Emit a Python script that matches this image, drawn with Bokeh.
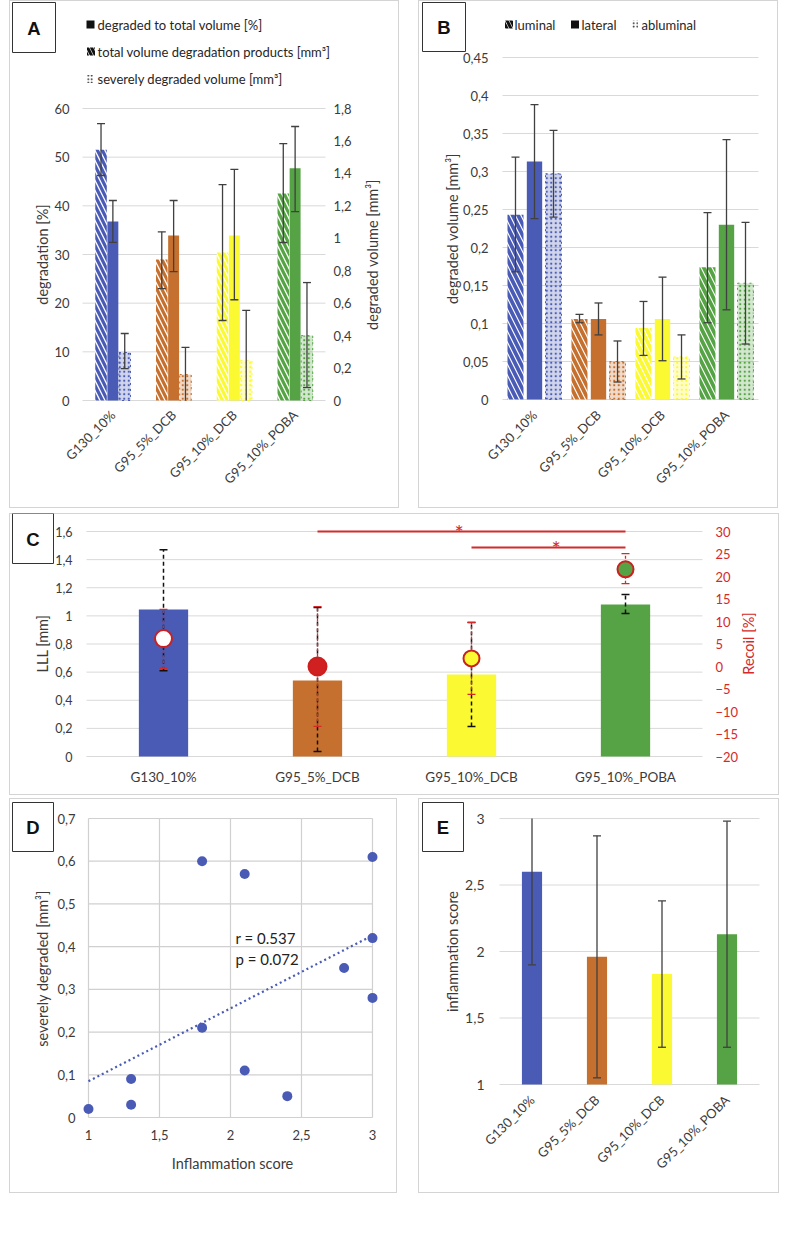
import math
import numpy as np
from bokeh.plotting import figure
from bokeh.models import (Range1d, LinearAxis, FixedTicker, CustomJSTickFormatter,
                          ColumnDataSource, Spacer)
from bokeh.layouts import row, column
from bokeh.embed import file_html
from bokeh.resources import INLINE
from bokeh.core.properties import value

FONT = "Lato"
TXT = "#3b3b3b"
GRID = "#d9d9d9"
ERR = "#404040"
RED = "#d42a2a"

# ---------------- data ----------------
groups = ["G130_10%", "G95_5%_DCB", "G95_10%_DCB", "G95_10%_POBA"]
group_pos = [1, 2, 3, 4]
colors = ["#4a5bb5", "#c5702f", "#faf932", "#55a344"]

# Panel A
a_legend = ["degraded to total volume [%]",
            "total volume degradation products [mm³]",
            "severely degraded volume [mm³]"]
a_pct = [36.8, 33.9, 33.9, 47.7]
a_pct_lo = [32.5, 26.5, 20.7, 38.8]
a_pct_hi = [41.1, 41.1, 47.5, 56.3]
a_total = [1.545, 0.869, 0.912, 1.276]
a_total_lo = [1.387, 0.69, 0.493, 0.974]
a_total_hi = [1.707, 1.04, 1.331, 1.584]
a_severe = [0.296, 0.16, 0.247, 0.40]
a_severe_lo = [0.197, -0.007, -0.061, 0.08]
a_severe_hi = [0.413, 0.327, 0.555, 0.727]
a_left_ticks = [0, 10, 20, 30, 40, 50, 60]
a_right_ticks = [0, 0.2, 0.4, 0.6, 0.8, 1, 1.2, 1.4, 1.6, 1.8]

# Panel B
b_legend = ["luminal", "lateral", "abluminal"]
b_lum = [0.243, 0.106, 0.094, 0.174]
b_lum_lo = [0.168, 0.101, 0.058, 0.101]
b_lum_hi = [0.319, 0.112, 0.129, 0.246]
b_lat = [0.313, 0.106, 0.106, 0.230]
b_lat_lo = [0.238, 0.085, 0.051, 0.118]
b_lat_hi = [0.388, 0.127, 0.161, 0.342]
b_abl = [0.297, 0.050, 0.056, 0.153]
b_abl_lo = [0.240, 0.023, 0.027, 0.073]
b_abl_hi = [0.354, 0.077, 0.085, 0.233]
b_ticks = [0, 0.05, 0.1, 0.15, 0.2, 0.25, 0.3, 0.35, 0.4, 0.45]

# Panel C
c_lll = [1.045, 0.54, 0.583, 1.081]
c_lll_lo = [0.61, 0.036, 0.213, 1.017]
c_lll_hi = [1.47, 1.06, 0.953, 1.152]
c_recoil = [6.2, 0.0, 1.8, 21.6]
c_recoil_lo = [-0.4, -13.3, -6.2, 18.4]
c_recoil_hi = [12.7, 13.3, 9.8, 25.1]
c_marker_fill = ["#ffffff", "#d0201f", "#faf932", "#55a344"]
c_marker_size = [17, 18, 16, 16]
sig_from = [2, 3]
sig_to = [4, 4]
sig_lll = [1.6, 1.486]
sig_star_x = [2.92, 3.55]
c_left_ticks = [0, 0.2, 0.4, 0.6, 0.8, 1, 1.2, 1.4, 1.6]
c_right_ticks = [-20, -15, -10, -5, 0, 5, 10, 15, 20, 25, 30]

# Panel D
d_score = [1.0, 1.3, 1.3, 1.8, 1.8, 2.1, 2.1, 2.4, 2.8, 3.0, 3.0, 3.0]
d_severe = [0.02, 0.09, 0.03, 0.60, 0.21, 0.57, 0.11, 0.05, 0.35, 0.61, 0.42, 0.28]
d_stats = ["r = 0.537", "p = 0.072"]
d_x_ticks = [1, 1.5, 2, 2.5, 3]
d_y_ticks = [0, 0.1, 0.2, 0.3, 0.4, 0.5, 0.6, 0.7]

# Panel E
e_score = [2.60, 1.96, 1.83, 2.13]
e_lo = [1.90, 1.05, 1.28, 1.28]
e_hi = [3.30, 2.87, 2.38, 2.98]
e_ticks = [1, 1.5, 2, 2.5, 3]

# ---------------- helpers ----------------
def comma():
    return CustomJSTickFormatter(code="return String(tick).replace('.', ',');")


class Panel:
    """A figure whose frame covers the whole panel; (fl, ft, fr, fb) is the
    plotting area in page pixels that maps onto the data ranges xr, yr."""

    def __init__(self, x0, y0, w, h, fl, ft, fr, fb, xr, yr):
        self.fl, self.ft, self.fr, self.fb = fl, ft, fr, fb
        self.xr, self.yr = xr, yr
        p = figure(width=w, height=h,
                   x_range=Range1d(self.X(x0), self.X(x0 + w)),
                   y_range=Range1d(self.Y(y0 + h), self.Y(y0)),
                   output_backend="svg", toolbar_location=None,
                   min_border=0, min_border_left=0, min_border_right=0,
                   min_border_top=0, min_border_bottom=0)
        p.border_fill_color = None
        p.background_fill_color = None
        p.outline_line_color = None
        p.styles = {"box-shadow": "inset 0 0 0 1px #d4d4d4"}
        p.xgrid.visible = False
        p.ygrid.visible = False
        self.p = p

    def X(self, px):
        return self.xr[0] + (px - self.fl) / (self.fr - self.fl) * (self.xr[1] - self.xr[0])

    def Y(self, py):
        return self.yr[0] + (self.fb - py) / (self.fb - self.ft) * (self.yr[1] - self.yr[0])

    def text(self, px, py, texts, size="14.5px", color=TXT, angle=0.0, align="center",
             font=FONT, style="normal"):
        if isinstance(texts, str):
            texts = [texts]
        pxs = px if isinstance(px, (list, tuple)) else [px] * len(texts)
        pys = py if isinstance(py, (list, tuple)) else [py] * len(texts)
        self.p.text(x=[self.X(v) for v in pxs], y=[self.Y(v) for v in pys], text=texts,
                    angle=angle, text_align=align, text_baseline="middle",
                    text_font=value(font), text_font_size=size, text_color=color,
                    text_font_style=style)

    def tag(self, cx, cy, w, h, letter):
        self.p.rect(x=[self.X(cx)], y=[self.Y(cy)], width=w, height=h,
                    width_units="screen", height_units="screen",
                    fill_color="white", line_color="#333333", line_width=1)
        self.text(cx, cy + 0.5, letter, size="18.5px", color="#111111",
                  font="Liberation Sans", style="bold")

    def hgrid(self, ticks, x0=None, x1=None, color=GRID, width=1):
        x0 = self.xr[0] if x0 is None else x0
        x1 = self.xr[1] if x1 is None else x1
        self.p.segment(x0=[x0] * len(ticks), y0=ticks, x1=[x1] * len(ticks), y1=ticks,
                       line_color=color, line_width=width)


def style_axis(ax, size="13px", color=TXT, standoff=12):
    ax.axis_line_color = None
    ax.major_tick_line_color = None
    ax.minor_tick_line_color = None
    ax.major_tick_out = 0
    ax.major_tick_in = 0
    ax.minor_tick_out = 0
    ax.minor_tick_in = 0
    ax.major_label_text_font = FONT
    ax.major_label_text_font_size = size
    ax.major_label_text_color = color
    ax.major_label_standoff = standoff


def cat_axis(P, size="13px", standoff=12, rotate=True):
    ax = P.p.xaxis[0]
    ax.fixed_location = P.yr[0]
    ax.ticker = FixedTicker(ticks=group_pos)
    ax.major_label_overrides = {k: g for k, g in zip(group_pos, groups)}
    style_axis(ax, size=size, standoff=standoff)
    if rotate:
        ax.major_label_orientation = math.pi / 4


def y_axis(P, ticks, size="13px", standoff=12, loc=None):
    ax = P.p.yaxis[0]
    ax.fixed_location = P.xr[0] if loc is None else loc
    ax.ticker = FixedTicker(ticks=ticks)
    ax.formatter = comma()
    style_axis(ax, size=size, standoff=standoff)


def errbars(p, xs, lo, hi, color=ERR, width=1.3, cap=8, dash="solid", yname="default",
            clip=(-1e9, 1e9)):
    xs = list(xs)
    lo_c = [max(v, clip[0]) for v in lo]
    hi_c = [min(v, clip[1]) for v in hi]
    p.segment(x0=xs, y0=lo_c, x1=xs, y1=hi_c, line_color=color, line_width=width,
              line_dash=dash, y_range_name=yname)
    cx = [x for x, v in zip(xs, lo) if v >= clip[0]] + [x for x, v in zip(xs, hi) if v <= clip[1]]
    cy = [v for v in lo if v >= clip[0]] + [v for v in hi if v <= clip[1]]
    p.scatter(x=cx, y=cy, marker="dash", size=cap, line_color=color, line_width=width,
              y_range_name=yname)


DOT = dict(fill_alpha=0.26, line_dash="dotted", line_width=1,
           hatch_pattern="dot", hatch_scale=4.5, hatch_weight=1.5)

xg = np.array(group_pos, dtype=float)

# ---------------- Panel A ----------------
A = Panel(9, 0, 390, 508, 82, 108, 325, 400, (0.5, 4.5), (0, 60))
pA = A.p
VOL = 0.03
pA.extra_y_ranges = {"vol": Range1d(pA.y_range.start * VOL, pA.y_range.end * VOL)}
A.hgrid(a_left_ticks)
off, bw = 0.195, 0.19
pA.vbar(x=xg - off, top=a_total, width=bw, y_range_name="vol", fill_color="white",
        line_color=None, hatch_pattern="left_diagonal_line", hatch_color=colors,
        hatch_weight=3.2, hatch_scale=10)
pA.vbar(x=xg, top=a_pct, width=0.18, fill_color=colors, line_color=None)
pA.vbar(x=xg + off, top=a_severe, width=bw, y_range_name="vol", fill_color=colors,
        line_color=colors, hatch_color=colors, **DOT)
errbars(pA, xg - off, a_total_lo, a_total_hi, yname="vol", clip=(0, 1e9))
errbars(pA, xg, a_pct_lo, a_pct_hi, clip=(0, 1e9))
errbars(pA, xg + off, a_severe_lo, a_severe_hi, yname="vol", clip=(0, 1e9))
y_axis(A, a_left_ticks, standoff=13)
cat_axis(A, standoff=12)
axr = LinearAxis(y_range_name="vol", ticker=FixedTicker(ticks=a_right_ticks),
                 formatter=comma(), fixed_location=A.xr[1])
style_axis(axr, standoff=8)
pA.add_layout(axr, "right")
# legend
leg_y = [24, 51, 78]
pA.rect(x=[A.X(90)], y=[A.Y(24)], width=8, height=8, width_units="screen",
        height_units="screen", fill_color="#111111", line_color=None)
pA.rect(x=[A.X(90.5)], y=[A.Y(51)], width=8, height=8, width_units="screen",
        height_units="screen", fill_color="white", line_color=None,
        hatch_pattern="left_diagonal_line", hatch_color="#111111", hatch_weight=3, hatch_scale=8)
pA.rect(x=[A.X(89.5)], y=[A.Y(78.5)], width=7, height=8, width_units="screen",
        height_units="screen", fill_color="white", line_color=None,
        hatch_pattern="dot", hatch_color="#111111", hatch_scale=3.5, hatch_weight=1.5)
A.text(97, leg_y, a_legend, size="13px", color="#262626", align="left")
A.text(42, 254, "degradation [%]", angle=math.pi / 2)
A.text(372, 254, "degraded volume [mm³]", angle=math.pi / 2)
A.tag(33.5, 27, 43, 50, "A")

# ---------------- Panel B ----------------
B = Panel(418, 0, 360, 508, 502, 57, 758, 399, (0.5, 4.5), (0, 0.45))
pB = B.p
B.hgrid(b_ticks)
offb, bwb = 0.297, 0.25
pB.vbar(x=xg - offb, top=b_lum, width=bwb, fill_color="white", line_color=None,
        hatch_pattern="left_diagonal_line", hatch_color=colors, hatch_weight=3.8, hatch_scale=11)
pB.vbar(x=xg, top=b_lat, width=0.24, fill_color=colors, line_color=None)
pB.vbar(x=xg + offb, top=b_abl, width=bwb, fill_color=colors, line_color=colors,
        hatch_color=colors, **DOT)
errbars(pB, xg - offb, b_lum_lo, b_lum_hi, clip=(0, 1e9))
errbars(pB, xg, b_lat_lo, b_lat_hi, clip=(0, 1e9))
errbars(pB, xg + offb, b_abl_lo, b_abl_hi, clip=(0, 1e9))
y_axis(B, b_ticks, standoff=14)
cat_axis(B, standoff=13)
pB.rect(x=[B.X(508.5)], y=[B.Y(24)], width=8, height=8, width_units="screen",
        height_units="screen", fill_color="white", line_color=None,
        hatch_pattern="left_diagonal_line", hatch_color="#111111", hatch_weight=3, hatch_scale=8)
pB.rect(x=[B.X(574.5)], y=[B.Y(24)], width=8, height=8, width_units="screen",
        height_units="screen", fill_color="#111111", line_color=None)
pB.rect(x=[B.X(634.5)], y=[B.Y(24)], width=6, height=8, width_units="screen",
        height_units="screen", fill_color="white", line_color=None,
        hatch_pattern="dot", hatch_color="#111111", hatch_scale=3.5, hatch_weight=1.5)
B.text([514, 581, 641], 24, b_legend, size="13px", color="#262626", align="left")
B.text(452, 228, "degraded volume [mm³]", angle=math.pi / 2)
B.tag(443.5, 26.5, 43, 49, "B")

# ---------------- Panel C ----------------
C = Panel(9, 513, 770, 282, 86, 531, 702, 756, (0.5, 4.5), (0, 1.6))
pC = C.p
R_PER_MM = 50 / 1.6
pC.extra_y_ranges = {"recoil": Range1d(-20 + pC.y_range.start * R_PER_MM,
                                       -20 + pC.y_range.end * R_PER_MM)}
C.hgrid(c_left_ticks)
pC.vbar(x=xg, top=c_lll, width=0.32, fill_color=colors, line_color=None)
errbars(pC, xg, c_lll_lo, c_lll_hi, color="#111111", width=1.5, cap=8, dash="4 3",
        clip=(0, 1e9))
errbars(pC, xg, c_recoil_lo, c_recoil_hi, color=RED, width=1.3, cap=8, dash="3 2",
        yname="recoil", clip=(-20, 1e9))
pC.scatter(x=xg, y=c_recoil, size=c_marker_size, marker="circle",
           fill_color=c_marker_fill, line_color="#cc1f1f", line_width=2,
           y_range_name="recoil")
pC.segment(x0=sig_from, y0=sig_lll, x1=sig_to, y1=sig_lll, line_color=RED, line_width=2)
pC.text(x=sig_star_x, y=[s - 0.005 for s in sig_lll], text=["*", "*"],
        text_font=value(FONT), text_font_size="22px", text_color=RED,
        text_baseline="middle", text_align="center")
y_axis(C, c_left_ticks, size="12.5px", standoff=14)
cat_axis(C, size="13.5px", standoff=12, rotate=False)
axc = LinearAxis(y_range_name="recoil", ticker=FixedTicker(ticks=c_right_ticks),
                 fixed_location=C.xr[1])
style_axis(axc, size="13px", color=RED, standoff=13)
pC.add_layout(axc, "right")
C.text(42, 643, "LLL [mm]", angle=math.pi / 2)
C.text(748, 643, "Recoil [%]", angle=math.pi / 2, color=RED)
C.tag(32.5, 538, 41, 50, "C")

# ---------------- Panel D ----------------
D = Panel(9, 798, 388, 395, 88, 818, 372, 1117, (1, 3), (0, 0.7))
pD = D.p
pD.segment(x0=d_x_ticks, y0=[d_y_ticks[0]] * len(d_x_ticks), x1=d_x_ticks,
           y1=[d_y_ticks[-1]] * len(d_x_ticks), line_color="#d0d0d0", line_width=1.2)
D.hgrid(d_y_ticks, d_x_ticks[0], d_x_ticks[-1], color="#d0d0d0", width=1.2)
coef = np.polyfit(d_score, d_severe, 1)
tx = [min(d_score), max(d_score)]
pD.line(x=tx, y=list(np.polyval(coef, tx)), line_color="#4a5bb5", line_width=2.2,
        line_dash="2 3")
pD.scatter(x=d_score, y=d_severe, size=10, marker="circle", fill_color="#4a5bb5",
           line_color=None)
D.text(235, [937, 958], d_stats, size="15px", color="#222222", align="left")
axdy = pD.yaxis[0]
axdy.fixed_location = D.xr[0]
axdy.ticker = FixedTicker(ticks=d_y_ticks)
axdy.formatter = comma()
style_axis(axdy, size="13px", standoff=13)
axdx = pD.xaxis[0]
axdx.fixed_location = D.yr[0]
axdx.ticker = FixedTicker(ticks=d_x_ticks)
axdx.formatter = comma()
style_axis(axdx, size="13px", standoff=12)
D.text(42, 968, "severely degraded [mm³]", angle=math.pi / 2)
D.text(232, 1163, "Inflammation score")
D.tag(32.5, 826.5, 41, 49, "D")

# ---------------- Panel E ----------------
E = Panel(418, 798, 361, 395, 499, 818, 759, 1084, (0.5, 4.5), (1, 3))
pE = E.p
E.hgrid(e_ticks)
pE.vbar(x=xg, top=e_score, bottom=1, width=0.31, fill_color=colors, line_color=None)
errbars(pE, xg, e_lo, e_hi, clip=(1, 3))
y_axis(E, e_ticks, size="14px", standoff=15)
cat_axis(E, standoff=13)
E.text(452, 951, "inflammation score", angle=math.pi / 2)
E.tag(442.5, 826.5, 41, 49, "E")

layout = column(
    row(Spacer(width=9, height=1), pA, Spacer(width=19, height=1), pB),
    Spacer(height=5, width=1),
    row(Spacer(width=9, height=1), pC),
    Spacer(height=3, width=1),
    row(Spacer(width=9, height=1), pD, Spacer(width=21, height=1), pE),
)

open("out.html", "w").write(file_html(layout, INLINE))
